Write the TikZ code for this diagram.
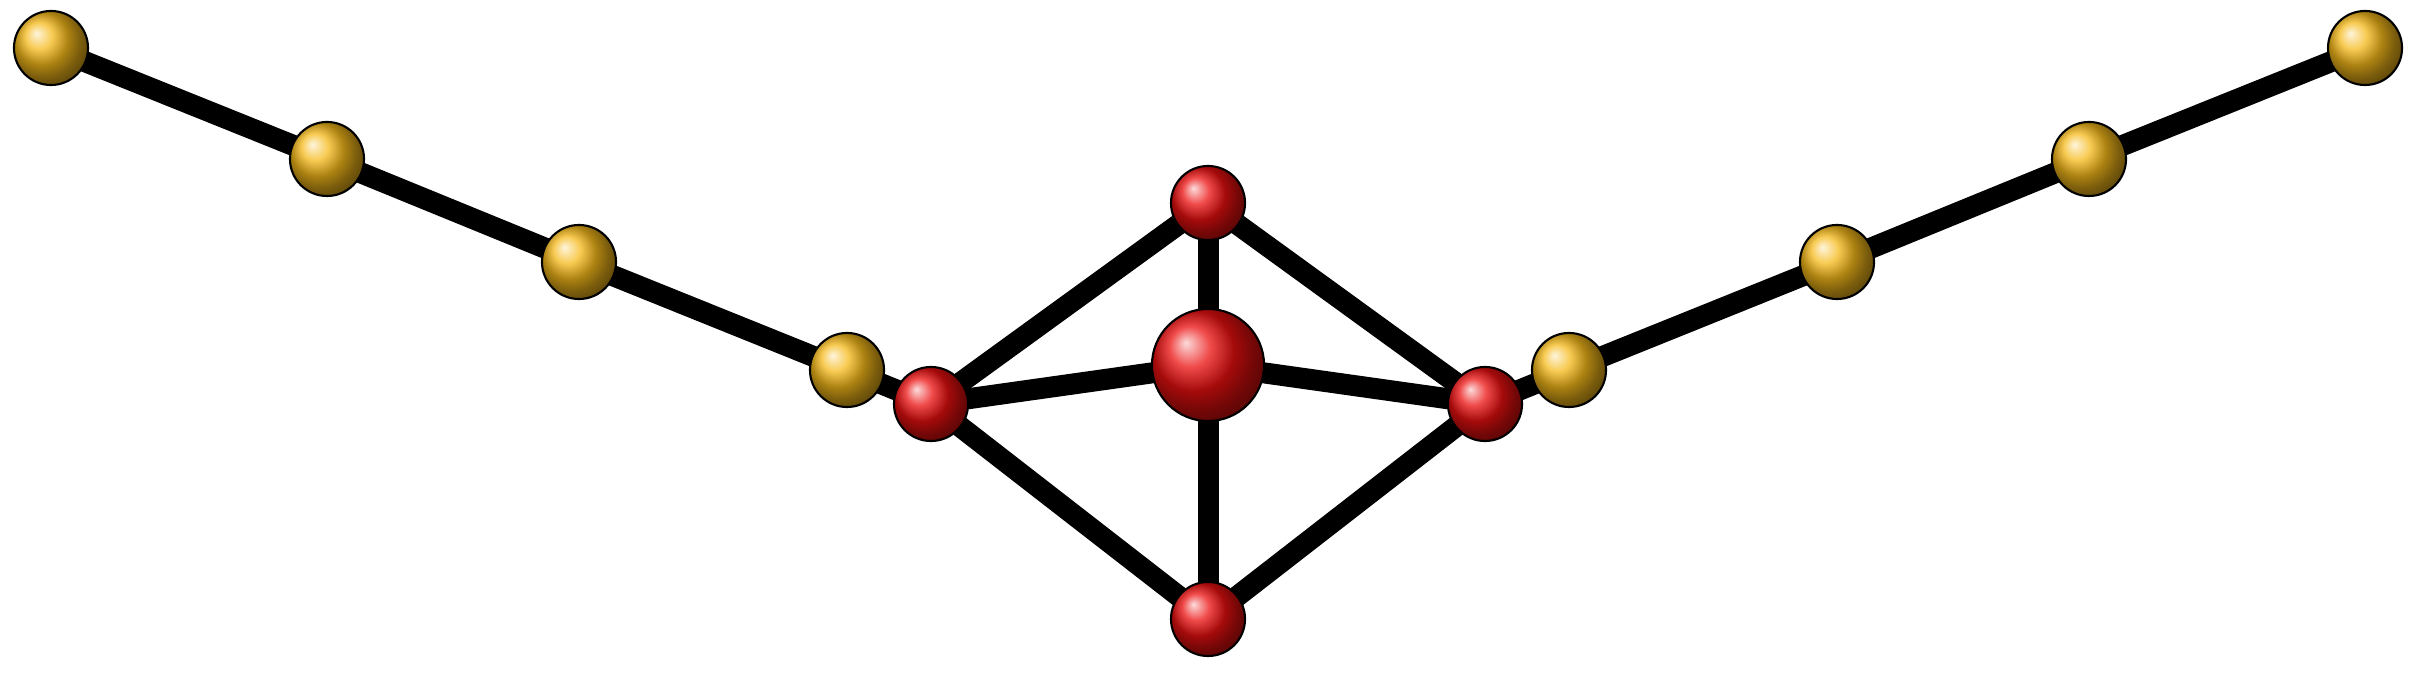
\documentclass[tikz,border=0pt]{standalone}
\usetikzlibrary{backgrounds}
\definecolor{gold}{RGB}{245,185,25}
\definecolor{rouge}{RGB}{235,15,15}
\begin{document}
\begin{tikzpicture}[x=0.01cm,y=-0.01cm]
    \tikzstyle{every node}+=[inner sep=0pt]
    \tikzstyle{au}=[circle, draw=black, line width=0.6pt, minimum size=0.74cm, shading=ball, ball color=gold]
    \tikzstyle{fe}=[circle, draw=black, line width=0.6pt, minimum size=0.74cm, shading=ball, ball color=rouge]
    \tikzstyle{bond}=[black, line width=0.21cm]
    \useasboundingbox (0,0) rectangle (2416,674);
    \node [au] (a1) at (51,48) {};
    \node [au] (a2) at (327,159) {};
    \node [au] (a3) at (579,262) {};
    \node [au] (a4) at (847,370) {};
    \node [au] (b4) at (1569,370) {};
    \node [au] (b3) at (1837,262) {};
    \node [au] (b2) at (2089,159) {};
    \node [au] (b1) at (2365,48) {};
    \node [fe] (left) at (931,404) {};
    \node [fe] (right) at (1485,404) {};
    \node [fe] (top) at (1208,203) {};
    \node [fe] (bottom) at (1208,619) {};
    \node [fe, minimum size=1.12cm] (mid) at (1208,365) {};
    \begin{scope}[on background layer]
    \draw [bond] (a1.center) -- (a2.center) -- (a3.center) -- (a4.center) -- (left.center);
    \draw [bond] (b1.center) -- (b2.center) -- (b3.center) -- (b4.center) -- (right.center);
    \draw [bond] (left.center) -- (top.center);
    \draw [bond] (left.center) -- (mid.center);
    \draw [bond] (left.center) -- (bottom.center);
    \draw [bond] (right.center) -- (top.center);
    \draw [bond] (right.center) -- (mid.center);
    \draw [bond] (right.center) -- (bottom.center);
    \draw [bond] (top.center) -- (bottom.center);
    \end{scope}
\end{tikzpicture}
\end{document}
